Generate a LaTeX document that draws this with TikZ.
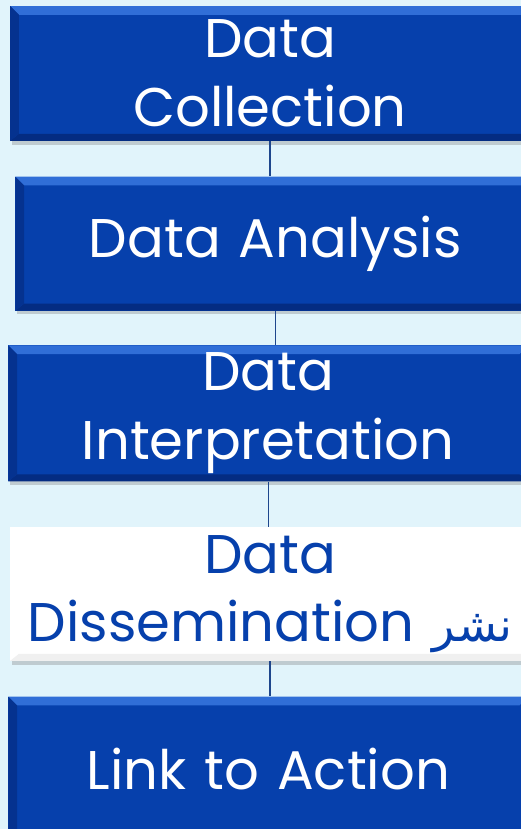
\documentclass[tikz,border=0pt]{standalone}
\usepackage{fontspec}
\setmainfont{Poppins}
\newfontfamily\arabicfont[Script=Arabic, Scale=0.85]{DejaVu Sans}
\TeXXeTstate=1
\usepackage{xcolor}
\usetikzlibrary{positioning, shadows}

\definecolor{backblue}{RGB}{225,244,251}
\definecolor{stageblue}{RGB}{6,64,172}
\definecolor{stagetop}{RGB}{48,110,215}
\definecolor{stagebot}{RGB}{4,44,130}
\definecolor{connblue}{RGB}{30,70,140}

\begin{document}
\begin{tikzpicture}[x=0.02cm, y=-0.02cm,
  stage/.style={rectangle, fill=stageblue, text=white, minimum width=10.4cm, minimum height=2.7cm,
    text width=10cm, align=center, inner sep=0pt,
    font=\fontsize{31}{39}\selectfont,
    drop shadow={shadow xshift=1pt, shadow yshift=-2pt, opacity=0.35},
    path picture={
      \fill[stagetop] (path picture bounding box.north west) -- (path picture bounding box.north east)
        -- ([xshift=-5pt,yshift=-5pt]path picture bounding box.north east)
        -- ([xshift=5pt,yshift=-5pt]path picture bounding box.north west) -- cycle;
      \fill[stagebot] (path picture bounding box.south west) -- (path picture bounding box.south east)
        -- ([xshift=-5pt,yshift=4pt]path picture bounding box.south east)
        -- ([xshift=5pt,yshift=4pt]path picture bounding box.south west) -- cycle;
      \fill[stagebot!70!stageblue] (path picture bounding box.south west) -- (path picture bounding box.north west)
        -- ([xshift=5pt,yshift=-5pt]path picture bounding box.north west)
        -- ([xshift=5pt,yshift=4pt]path picture bounding box.south west) -- cycle;
    }},
  chosen/.style={stage, fill=white, text=stageblue,
    path picture={
      \fill[gray!12] (path picture bounding box.south west) -- (path picture bounding box.south east)
        -- ([xshift=-5pt,yshift=4pt]path picture bounding box.south east)
        -- ([xshift=5pt,yshift=4pt]path picture bounding box.south west) -- cycle;
    }},
  conn/.style={draw=connblue, line width=0.8pt},
  node distance=0.7cm]

  % Hintergrund
  \fill[backblue] (0,0) rectangle (521,829);
  \useasboundingbox (0,0) rectangle (521,829);

  % Stufen
  \node[stage, minimum height=2.7cm] (collect) at (270,73.5) {Data\\Collection};
  \node[stage, below=0.7cm of collect, xshift=3pt, minimum height=2.68cm] (analyse) {Data Analysis};
  \node[stage, below=0.68cm of analyse, xshift=-4pt, minimum height=2.72cm] (interpret) {Data\\Interpretation};
  \node[chosen, below=0.9cm of interpret, xshift=1pt, minimum height=2.68cm] (dissem)
    {Data\\Dissemination {\arabicfont\beginR نشر\endR}};
  \node[stage, below=0.7cm of dissem, xshift=-1pt, minimum height=2.9cm] (action) {Link to Action};

  % Verbindungen
  \draw[conn] (collect.south) -- (analyse.north -| collect.south);
  \draw[conn] (analyse.south) -- (interpret.north -| analyse.south);
  \draw[conn] (interpret.south) -- (dissem.north -| interpret.south);
  \draw[conn] (dissem.south) -- (action.north -| dissem.south);

\end{tikzpicture}
\end{document}
